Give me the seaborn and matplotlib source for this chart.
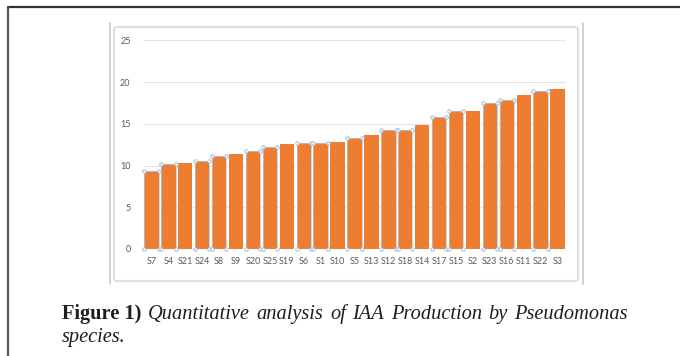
import matplotlib
matplotlib.use("Agg")
import matplotlib.pyplot as plt
import seaborn as sns
import pandas as pd
from matplotlib.patches import FancyBboxPatch
from matplotlib.lines import Line2D

strains = ["S7", "S4", "S21", "S24", "S8", "S9", "S20", "S25", "S19", "S6", "S1", "S10", "S5",
           "S13", "S12", "S18", "S14", "S17", "S15", "S2", "S23", "S16", "S11", "S22", "S3"]
iaa = [9.3, 10.2, 10.3, 10.5, 11.1, 11.4, 11.7, 12.2, 12.6, 12.65, 12.7, 12.85, 13.3,
       13.6, 14.3, 14.3, 14.8, 15.85, 16.55, 16.55, 17.5, 17.9, 18.4, 18.9, 19.2]
selected = [1, 1, 0, 1, 1, 0, 1, 1, 0, 1, 1, 0, 1,
            0, 1, 1, 0, 1, 1, 0, 1, 1, 0, 1, 0]
yticks = [0, 5, 10, 15, 20, 25]
caption_bold = "Figure 1)"
caption_line1 = "Quantitative analysis of IAA Production by Pseudomonas"
caption_line2 = "species."

df = pd.DataFrame({"strain": strains, "iaa": iaa})

sns.set_theme(style="white")
plt.rcParams["font.family"] = ["Lato", "DejaVu Sans"]

W, H = 680, 356
fig = plt.figure(figsize=(6.8, 3.56), dpi=100)
fig.patch.set_facecolor("white")

def fx(x):
    return x / W

def fy(y):
    return 1 - y / H

ax = fig.add_axes([fx(143), fy(249), fx(566) - fx(143), fy(40.3) - fy(249)])
sns.barplot(data=df, x="strain", y="iaa", color="#ED7D31", saturation=1, width=0.85,
            edgecolor="none", ax=ax)
ax.set_ylim(0, 25)
ax.set_xlim(-0.5, len(strains) - 0.5)
ax.set_yticks(yticks)
ax.set_yticklabels([str(t) for t in yticks])
ax.set_xlabel("")
ax.set_ylabel("")
ax.yaxis.grid(True, color="#e6e6e6", lw=0.8)
ax.set_axisbelow(True)
for s in ax.spines.values():
    s.set_visible(False)
ax.tick_params(axis="both", length=0, labelsize=6.5, labelcolor="#595959")
ax.tick_params(axis="y", pad=9)
ax.tick_params(axis="x", pad=6)

# selection handles at bar corners
for p, sel in zip(ax.patches, selected):
    if sel:
        x0, x1 = p.get_x(), p.get_x() + p.get_width()
        h = p.get_height()
        for xs, ys in (([x0, x1], [h, h]), ([x0, x0], [0, h]), ([x1, x1], [0, h])):
            ax.plot(xs, ys, color="#b3c9de", lw=0.5, zorder=4)
        ax.plot([x0, x1, x0, x1], [0, 0, h, h], "o", ms=2.6, mfc="#eef3f8", mec="#9dbcda",
                mew=0.6, clip_on=False, zorder=5)

# outer figure frame
fig.add_artist(Line2D([fx(8), fx(680)], [fy(7), fy(7)], color="#333333", lw=1.6))
fig.add_artist(Line2D([fx(8), fx(8)], [fy(7), fy(356)], color="#555555", lw=1.6))

# chart frame
fig.add_artist(Line2D([fx(110), fx(110)], [fy(23), fy(284)], color="#c4c4c4", lw=1.1))
fig.add_artist(Line2D([fx(583), fx(583)], [fy(23), fy(284)], color="#c4c4c4", lw=1.1))
fig.add_artist(FancyBboxPatch((fx(114), fy(281)), fx(578) - fx(114), fy(27) - fy(281),
                              boxstyle="round,pad=0,rounding_size=0.006",
                              fc="none", ec="#e0e0e0", lw=1.6, transform=fig.transFigure))

# caption (first line justified between x=62 and x=628)
cap_font = ["Liberation Serif", "DejaVu Serif"]
fs = 14.7
col = "#1e1e1e"
renderer = fig.canvas.get_renderer()
items = [(caption_bold, "bold", "normal")] + [(w, "normal", "italic") for w in caption_line1.split()]
texts = []
for s, wgt, sty in items:
    t = fig.text(0, fy(319), s, fontsize=fs, fontweight=wgt, fontstyle=sty, family=cap_font,
                 color=col, va="baseline", ha="left")
    texts.append(t)
widths = [t.get_window_extent(renderer).width for t in texts]
left, right = 62, 628
gap = (right - left - sum(widths)) / (len(texts) - 1)
x = left
for t, w in zip(texts, widths):
    t.set_x(fx(x))
    x += w + gap
fig.text(fx(62), fy(342), caption_line2, fontsize=fs, fontstyle="italic", family=cap_font,
         color=col, va="baseline", ha="left")

fig.savefig("out.png", dpi=100)
